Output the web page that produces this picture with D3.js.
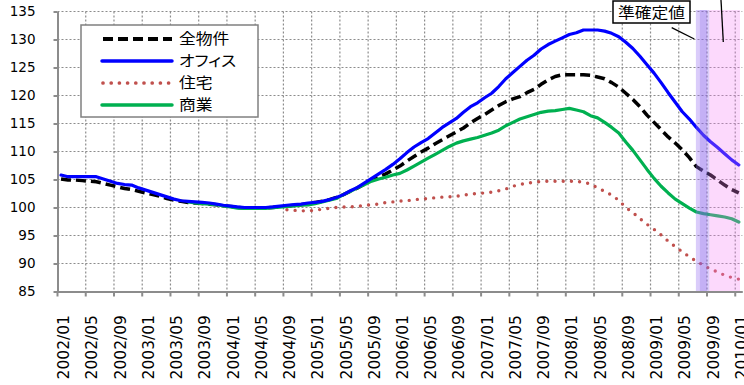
<!DOCTYPE html>
<html>
<head>
<meta charset="utf-8">
<script src="https://cdn.jsdelivr.net/npm/d3@7"></script>
<style>
    html, body { margin: 0; padding: 0; background: #fff; }
    svg { display: block; }
    .num { font-family: "DejaVu Sans", sans-serif; fill: #000; }
    .jp { font-family: "Noto Sans CJK JP", sans-serif; font-feature-settings: "palt"; fill: #000; }
</style>
</head>
<body>
<div id="chart"></div>
<script>
"use strict"

//-------------------------------DATA-------------------------------//
// monthly categories 2002/01 .. 2010/01
const months = d3.timeMonth.range(new Date(2002, 0, 1), new Date(2010, 1, 1)).map(d3.timeFormat("%Y/%m"));
const yTicks = [85, 90, 95, 100, 105, 110, 115, 120, 125, 130, 135];
const seriesNames = ["全物件", "オフィス", "住宅", "商業"];

// 全物件 (2002/01 ..)
const allValues = [
    105.1, 104.9, 104.9, 104.8, 104.7, 104.6, 104.3, 104.0, 103.7, 103.4,
    103.2, 102.9, 102.6, 102.3, 102.0, 101.6, 101.3, 101.1, 100.9, 100.8,
    100.7, 100.6, 100.5, 100.3, 100.2, 100.0, 99.9, 99.9, 99.9, 99.9,
    100.0, 100.1, 100.25, 100.35, 100.5, 100.7, 100.9, 101.1, 101.4, 101.8,
    102.3, 102.9, 103.5, 104.2, 104.9, 105.5, 106.0, 106.7, 107.4, 108.3,
    109.1, 109.9, 110.6, 111.4, 112.1, 112.8, 113.5, 114.2, 115.1, 115.9,
    116.6, 117.4, 118.2, 118.9, 119.4, 119.8, 120.5, 121.1, 122.0, 122.8,
    123.4, 123.7, 123.7, 123.7, 123.7, 123.6, 123.3, 123.0, 122.3, 121.5,
    120.4, 119.3, 118.0, 116.5, 115.2, 113.9, 112.6, 111.5, 110.3, 108.9,
    107.3, 106.5, 105.8, 104.9, 104.0, 103.2, 102.6
];
// オフィス (2002/01 ..)
const officeValues = [
    105.8, 105.5, 105.5, 105.5, 105.5, 105.5, 105.1, 104.7, 104.3, 104.1,
    104.0, 103.5, 103.1, 102.7, 102.3, 101.9, 101.5, 101.2, 101.1, 101.0,
    100.9, 100.8, 100.6, 100.4, 100.25, 100.1, 100.0, 100.0, 100.0, 100.0,
    100.1, 100.25, 100.4, 100.5, 100.6, 100.8, 100.9, 101.1, 101.4, 101.8,
    102.3, 103.0, 103.6, 104.4, 105.2, 106.0, 106.8, 107.7, 108.7, 109.8,
    110.8, 111.6, 112.3, 113.3, 114.3, 115.1, 115.9, 117.0, 118.0, 118.7,
    119.6, 120.4, 121.6, 123.0, 124.1, 125.2, 126.3, 127.2, 128.3, 129.1,
    129.7, 130.3, 130.9, 131.2, 131.7, 131.7, 131.7, 131.5, 131.1, 130.5,
    129.5, 128.4, 127.0, 125.5, 124.0, 122.3, 120.5, 118.8, 117.1, 115.8,
    114.3, 112.9, 111.75, 110.7, 109.6, 108.5, 107.6
];
// 住宅 (2004/09 ..)
const residentialStart = "2004/09";
const residentialValues = [
    99.6, 99.5, 99.4, 99.4, 99.5, 99.7, 99.85, 100.0, 100.1, 100.1,
    100.2, 100.4, 100.5, 100.6, 100.9, 101.0, 101.15, 101.2, 101.4, 101.5,
    101.6, 101.75, 101.85, 101.9, 102.0, 102.2, 102.4, 102.5, 102.6, 102.75,
    103.0, 103.3, 103.8, 104.1, 104.35, 104.5, 104.65, 104.7, 104.7, 104.7,
    104.7, 104.7, 104.5, 104.2, 103.5, 102.9, 102.2, 101.3, 100.0, 99.1,
    98.0, 97.0, 96.1, 95.1, 94.0, 93.0, 92.1, 91.2, 90.4, 89.7,
    89.0, 88.5, 87.9, 87.5, 87.2
];
// 商業 (2003/07 ..)
const commercialStart = "2003/07";
const commercialValues = [
    101.0, 100.8, 100.7, 100.6, 100.5, 100.3, 100.1, 99.9, 99.85, 99.85,
    99.85, 99.85, 99.95, 100.05, 100.2, 100.3, 100.4, 100.45, 100.7, 101.0,
    101.3, 101.6, 102.3, 102.9, 103.5, 104.1, 104.7, 105.1, 105.4, 105.8,
    106.1, 106.7, 107.4, 108.1, 108.8, 109.5, 110.2, 110.9, 111.5, 111.9,
    112.2, 112.5, 112.9, 113.3, 113.8, 114.6, 115.2, 115.8, 116.2, 116.6,
    117.0, 117.2, 117.3, 117.5, 117.7, 117.4, 117.1, 116.4, 116.0, 115.2,
    114.3, 113.3, 111.7, 110.2, 108.5, 106.8, 105.2, 103.8, 102.6, 101.5,
    100.7, 99.9, 99.2, 98.9, 98.7, 98.5, 98.3, 98.0, 97.4
];

// shaded periods
const prelimBand = ["2009/07", "2009/08"];   // 準確定値
const latestBand = ["2009/09", "2010/01"];

//-----------------------------SETUP--------------------------------//
const width = 744;
const height = 385;
const gridColor = "#8c8c8c";
const axisColor = "#8c8c8c";

const svg = d3.select("#chart").append("svg")
    .attr("width", width)
    .attr("height", height);

const x = d3.scaleBand().domain(months).range([57.5, 742.3]);
const y = d3.scaleLinear().domain([85, 135]).range([291.5, 11.5]);
const bw = x.bandwidth();
const cx = m => x(m) + bw / 2;

const labelMonths = months.filter((m, i) => i % 4 === 0);

//-----------------------------GRID---------------------------------//
const grid = svg.append("g");
grid.selectAll("line.h")
    .data(yTicks.filter(v => v > 85))
    .join("line")
    .attr("x1", 57.5).attr("x2", 742.3)
    .attr("y1", d => y(d)).attr("y2", d => y(d))
    .attr("stroke", gridColor).attr("stroke-width", 1.2)
    .attr("stroke-dasharray", "2,2");

grid.selectAll("line.v")
    .data(labelMonths.slice(1))
    .join("line")
    .attr("x1", d => x(d)).attr("x2", d => x(d))
    .attr("y1", y(135)).attr("y2", y(85))
    .attr("stroke", gridColor).attr("stroke-width", 1.2)
    .attr("stroke-dasharray", "2,2");

//-----------------------------LINES--------------------------------//
const series = [
    { name: seriesNames[0], start: months[0], values: allValues, color: "#000", width: 3.5, dash: "10,5", cap: "butt" },
    { name: seriesNames[1], start: months[0], values: officeValues, color: "#0000ff", width: 3.2, dash: null, cap: "round" },
    { name: seriesNames[2], start: residentialStart, values: residentialValues, color: "#c0504d", width: 3.4, dash: "0,8.2", cap: "round" },
    { name: seriesNames[3], start: commercialStart, values: commercialValues, color: "#00b050", width: 3.2, dash: null, cap: "round" }
];
const drawOrder = [2, 0, 3, 1];

const line = (s) => {
    const off = months.indexOf(s.start);
    return d3.line()
        .x((d, i) => cx(months[off + i]))
        .y(d => y(d))(s.values);
};

svg.append("g").selectAll("path")
    .data(drawOrder.map(i => series[i]))
    .join("path")
    .attr("d", d => line(d))
    .attr("fill", "none")
    .attr("stroke", d => d.color)
    .attr("stroke-width", d => d.width)
    .attr("stroke-dasharray", d => d.dash)
    .attr("stroke-linecap", d => d.cap)
    .attr("stroke-linejoin", "round");

//-----------------------------BANDS--------------------------------//
const bands = svg.append("g");
bands.append("rect")
    .attr("x", x(prelimBand[0]) + 3)
    .attr("width", x(latestBand[0]) + 2.3 - (x(prelimBand[0]) + 3))
    .attr("y", 10).attr("height", y(85) - 10)
    .attr("fill", "rgb(150,110,240)").attr("fill-opacity", 0.35);
bands.append("rect")
    .attr("x", x(prelimBand[0]) + 7)
    .attr("width", x(prelimBand[1]) + bw - (x(prelimBand[0]) + 7))
    .attr("y", 10).attr("height", y(85) - 10)
    .attr("fill", "rgb(130,90,230)").attr("fill-opacity", 0.25);
bands.append("rect")
    .attr("x", x(latestBand[0]) + 2.3)
    .attr("width", x(latestBand[1]) + bw - 2.3 - (x(latestBand[0]) + 2.3))
    .attr("y", 10).attr("height", y(85) - 10)
    .attr("fill", "rgb(245,130,245)").attr("fill-opacity", 0.3);

//-----------------------------AXES---------------------------------//
const yAxis = svg.append("g")
    .attr("transform", "translate(57.5,0)")
    .call(d3.axisLeft(y).tickValues(yTicks).tickSize(4).tickSizeOuter(0).tickPadding(18));
yAxis.attr("font-family", null).attr("font-size", null);
yAxis.select(".domain").attr("stroke", axisColor).attr("stroke-width", 2);
yAxis.selectAll(".tick line").attr("stroke", axisColor).attr("stroke-width", 2);
yAxis.selectAll(".tick text")
    .attr("class", "num")
    .style("font-size", "13.5px")
    .attr("fill", "#000");

const xAxis = svg.append("g")
    .attr("transform", `translate(0,${y(85)})`)
    .call(d3.axisBottom(x).tickValues(labelMonths).tickSize(5).tickSizeOuter(0));
xAxis.attr("font-family", null).attr("font-size", null);
xAxis.select(".domain").attr("stroke", axisColor).attr("stroke-width", 2);
xAxis.selectAll(".tick line")
    .attr("x1", -bw / 2).attr("x2", -bw / 2)
    .attr("stroke", axisColor).attr("stroke-width", 2);
xAxis.selectAll(".tick text")
    .attr("class", "num")
    .style("font-size", "15.5px")
    .attr("fill", "#000")
    .attr("transform", "rotate(-90)")
    .attr("text-anchor", "end")
    .attr("x", -23.5)
    .attr("y", 2.5)
    .attr("dy", "0.36em");

//-----------------------------LEGEND-------------------------------//
const legend = svg.append("g");
legend.append("rect")
    .attr("x", 81).attr("y", 25).attr("width", 177).attr("height", 92)
    .attr("fill", "#fff").attr("stroke", "#808080").attr("stroke-width", 1.5);

const rowY = d3.scalePoint().domain(seriesNames).range([39, 105]);
const items = legend.selectAll("g.item")
    .data(series)
    .join("g")
    .attr("transform", d => `translate(0,${rowY(d.name)})`);
items.append("line")
    .attr("x1", d => d.dash ? 103 : 102).attr("x2", 172)
    .attr("y1", 0).attr("y2", 0)
    .attr("stroke", d => d.color)
    .attr("stroke-width", d => d.width + 0.3)
    .attr("stroke-dasharray", d => d.dash)
    .attr("stroke-linecap", d => d.cap);
// glyphs in the original are a bit wider than tall
items.append("text")
    .attr("class", "jp")
    .attr("transform", "translate(179,0) scale(1.12,1)")
    .attr("dy", "0.35em")
    .style("font-size", "15px")
    .text(d => d.name);

//---------------------------ANNOTATION-----------------------------//
const note = svg.append("g");
note.append("rect")
    .attr("x", 613).attr("y", 1).attr("width", 77).attr("height", 22)
    .attr("fill", "#fff").attr("stroke", "#000").attr("stroke-width", 1.5);
note.append("text")
    .attr("class", "jp")
    .attr("transform", "translate(651.5,12.5) scale(1.12,1)")
    .attr("dy", "0.35em")
    .attr("text-anchor", "middle")
    .style("font-size", "15px")
    .text("準確定値");
note.append("line")
    .attr("x1", 671.7).attr("y1", 27.7).attr("x2", 694.3).attr("y2", 39)
    .attr("stroke", "#000").attr("stroke-width", 1.3);
note.append("line")
    .attr("x1", 721).attr("y1", 0).attr("x2", 723.3).attr("y2", 42)
    .attr("stroke", "#000").attr("stroke-width", 1.3);
</script>
</body>
</html>
